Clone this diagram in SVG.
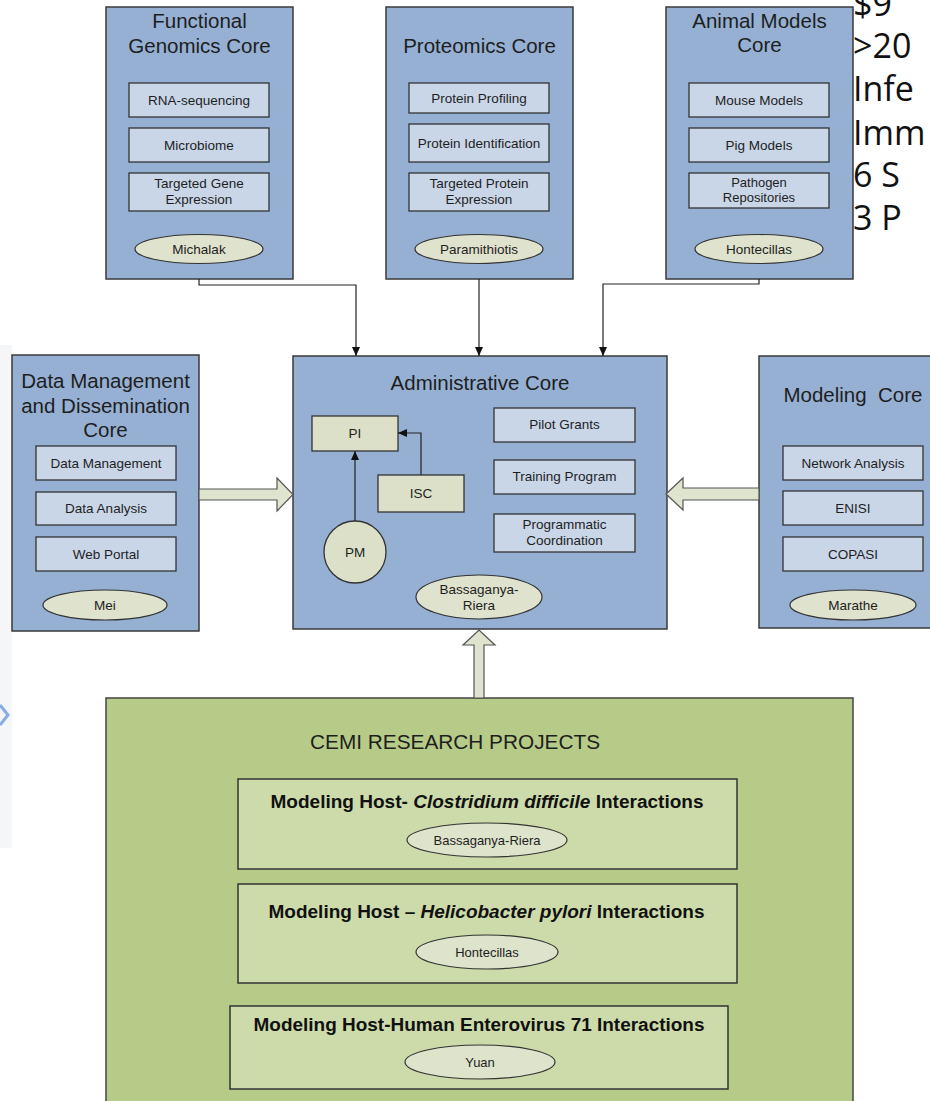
<svg xmlns="http://www.w3.org/2000/svg" width="930" height="1101" viewBox="0 0 930 1101">
<defs>
<marker id="ah" markerWidth="9" markerHeight="8" refX="9" refY="4" orient="auto" markerUnits="userSpaceOnUse">
<path d="M0,0 L9,4 L0,8 Z" fill="#111"/>
</marker>
<style>
text{font-family:"Liberation Sans",Arial,sans-serif;fill:#1e1e1e;text-anchor:middle}
.core{fill:#95b0d3;stroke:#3a3a3a;stroke-width:1.5}
.sub{fill:#c9d6e8;stroke:#333;stroke-width:1.3}
.ell{fill:#dfe2cc;stroke:#333;stroke-width:1.2}
.adm{fill:#dde0c9;stroke:#333;stroke-width:1.3}
.t{font-size:20.5px}
.l{font-size:13.5px}
.s{font-size:13px}
.green{fill:#b7cb88;stroke:#444;stroke-width:1.5}
.proj{fill:#cddbaa;stroke:#333;stroke-width:1.5}
.pe{fill:#dee3cc;stroke:#333;stroke-width:1.2}
.narrow{font-family:"Liberation Sans Narrow","Liberation Sans",Arial,sans-serif}
.pt{font-size:18px;font-weight:bold;fill:#111}
.side{font-family:"Open Sans","Liberation Sans",sans-serif;font-size:34px;fill:#111;text-anchor:start}
.conn{fill:none;stroke:#222;stroke-width:1.2}
.block{fill:#dfe4cf;stroke:#555;stroke-width:1.2}
</style>
</defs>
<rect width="930" height="1101" fill="#fff"/>
<!-- left slide edge -->
<rect x="0" y="345" width="12" height="503" fill="#f5f6f8"/>
<polyline points="0,705 8,715 0,725" fill="none" stroke="#6a9be0" stroke-width="3" opacity="0.8"/>

<!-- side text -->
<g id="sidetext">
<text class="side" x="853" y="16">$9</text>
<text class="side" x="853" y="58">&gt;20</text>
<text class="side" x="853" y="101">Infe</text>
<text class="side" x="853" y="145">Imm</text>
<text class="side" x="853" y="187">6 S</text>
<text class="side" x="853" y="230">3 P</text>
</g>

<g id="functional-genomics">
<rect class="core" x="106" y="7" width="187" height="272"/>
<text class="t" x="199.5" y="28">Functional</text>
<text class="t" x="199.5" y="53">Genomics Core</text>
<rect class="sub" x="129" y="83" width="140" height="34"/>
<text class="l" x="199" y="105">RNA-sequencing</text>
<rect class="sub" x="129" y="128" width="140" height="34"/>
<text class="l" x="199" y="150">Microbiome</text>
<rect class="sub" x="129" y="173" width="140" height="38"/>
<text class="l" x="199" y="188">Targeted Gene</text>
<text class="l" x="199" y="204">Expression</text>
<ellipse class="ell" cx="199" cy="249" rx="64" ry="14.5"/>
<text class="l" x="199" y="254">Michalak</text>
</g>

<g id="proteomics">
<rect class="core" x="386" y="7" width="187" height="272"/>
<text class="t" x="479.5" y="53">Proteomics Core</text>
<rect class="sub" x="409" y="83" width="140" height="30"/>
<text class="l" x="479" y="103">Protein Profiling</text>
<rect class="sub" x="409" y="124" width="140" height="38"/>
<text class="l" x="479" y="148">Protein Identification</text>
<rect class="sub" x="409" y="173" width="140" height="38"/>
<text class="l" x="479" y="188">Targeted Protein</text>
<text class="l" x="479" y="204">Expression</text>
<ellipse class="ell" cx="479" cy="249" rx="64" ry="14.5"/>
<text class="l" x="479" y="254">Paramithiotis</text>
</g>

<g id="animal-models">
<rect class="core" x="666" y="7" width="187" height="272"/>
<text class="t" x="759.5" y="28">Animal Models</text>
<text class="t" x="759.5" y="52">Core</text>
<rect class="sub" x="689" y="83" width="140" height="34"/>
<text class="l" x="759" y="105">Mouse Models</text>
<rect class="sub" x="689" y="128" width="140" height="34"/>
<text class="l" x="759" y="150">Pig Models</text>
<rect class="sub" x="689" y="173" width="140" height="35"/>
<text class="s" x="759" y="187">Pathogen</text>
<text class="s" x="759" y="202">Repositories</text>
<ellipse class="ell" cx="759" cy="249" rx="64" ry="14.5"/>
<text class="l" x="759" y="254">Hontecillas</text>
</g>

<g id="data-management">
<rect class="core" x="12" y="355" width="187" height="276"/>
<text class="t" x="105.5" y="388">Data Management</text>
<text class="t" x="105.5" y="413">and Dissemination</text>
<text class="t" x="105.5" y="437">Core</text>
<rect class="sub" x="36" y="446" width="140" height="34"/>
<text class="l" x="106" y="468">Data Management</text>
<rect class="sub" x="36" y="492" width="140" height="33"/>
<text class="l" x="106" y="513">Data Analysis</text>
<rect class="sub" x="36" y="537" width="140" height="34"/>
<text class="l" x="106" y="559">Web Portal</text>
<ellipse class="ell" cx="105" cy="605" rx="62" ry="15"/>
<text class="l" x="105" y="610">Mei</text>
</g>

<g id="administrative">
<rect class="core" x="293" y="356" width="374" height="273"/>
<text class="t" x="480" y="390">Administrative Core</text>
<rect class="adm" x="312" y="416" width="86" height="35"/>
<text class="l" x="355" y="438">PI</text>
<rect class="adm" x="378" y="475" width="86" height="37"/>
<text class="l" x="421" y="498">ISC</text>
<circle class="adm" cx="355" cy="552" r="31"/>
<text class="l" x="355" y="557">PM</text>
<rect class="sub" x="494" y="408" width="141" height="34"/>
<text class="l" x="564.5" y="429">Pilot Grants</text>
<rect class="sub" x="494" y="460" width="141" height="34"/>
<text class="l" x="564.5" y="481">Training Program</text>
<rect class="sub" x="494" y="514" width="141" height="38"/>
<text class="l" x="564.5" y="529">Programmatic</text>
<text class="l" x="564.5" y="545">Coordination</text>
<ellipse class="ell" cx="479" cy="597" rx="63" ry="22"/>
<text class="l" x="479" y="594">Bassaganya-</text>
<text class="l" x="479" y="610">Riera</text>
</g>

<g id="modeling">
<rect class="core" x="759" y="356" width="180" height="272"/>
<text class="t" x="853" y="402" style="white-space:pre">Modeling  Core</text>
<rect class="sub" x="783" y="446" width="140" height="34"/>
<text class="l" x="853" y="468">Network Analysis</text>
<rect class="sub" x="783" y="491" width="140" height="34"/>
<text class="l" x="853" y="513">ENISI</text>
<rect class="sub" x="783" y="537" width="140" height="34"/>
<text class="l" x="853" y="559">COPASI</text>
<ellipse class="ell" cx="853" cy="605" rx="63" ry="15"/>
<text class="l" x="853" y="610">Marathe</text>
</g>

<g id="research-projects">
<rect class="green" x="106" y="698" width="747" height="420"/>
<text class="narrow" x="455" y="749" font-size="21" textLength="290" lengthAdjust="spacingAndGlyphs">CEMI RESEARCH PROJECTS</text>
</g>

<g id="project-cdiff">
<rect class="proj" x="238" y="779" width="499" height="90"/>
<text class="narrow pt" x="487" y="808" textLength="433" lengthAdjust="spacingAndGlyphs">Modeling Host- <tspan font-style="italic">Clostridium difficile</tspan> Interactions</text>
<ellipse class="pe" cx="487" cy="840" rx="80" ry="17"/>
<text class="narrow s" x="487" y="845">Bassaganya-Riera</text>
</g>

<g id="project-hpylori">
<rect class="proj" x="238" y="884" width="499" height="99"/>
<text class="narrow pt" x="486.5" y="918" textLength="436" lengthAdjust="spacingAndGlyphs">Modeling Host – <tspan font-style="italic">Helicobacter pylori</tspan> Interactions</text>
<ellipse class="pe" cx="487" cy="952" rx="71" ry="17"/>
<text class="narrow s" x="487" y="957">Hontecillas</text>
</g>

<g id="project-ev71">
<rect class="proj" x="230" y="1006" width="498" height="83"/>
<text class="narrow pt" x="479" y="1031" textLength="451" lengthAdjust="spacingAndGlyphs">Modeling Host-Human Enterovirus 71 Interactions</text>
<ellipse class="pe" cx="480" cy="1062" rx="75" ry="17"/>
<text class="narrow s" x="480" y="1067">Yuan</text>
</g>

<g id="connectors">
<path class="conn" d="M199,279 V285 H356 V356" marker-end="url(#ah)"/>
<path class="conn" d="M479,279 V356" marker-end="url(#ah)"/>
<path class="conn" d="M759,279 V284 H603 V356" marker-end="url(#ah)"/>
<path class="conn" d="M355,521 V451" marker-end="url(#ah)"/>
<path class="conn" d="M421,475 V433 H398" marker-end="url(#ah)"/>
<polygon class="block" points="199,489 277,489 277,478 293,494.5 277,511 277,500 199,500"/>
<polygon class="block" points="759,488 683,488 683,478 666,494 683,510 683,500 759,500"/>
<polygon class="block" points="474,698 474,645 463,645 479,630 495,645 484,645 484,698"/>
</g>
</svg>
